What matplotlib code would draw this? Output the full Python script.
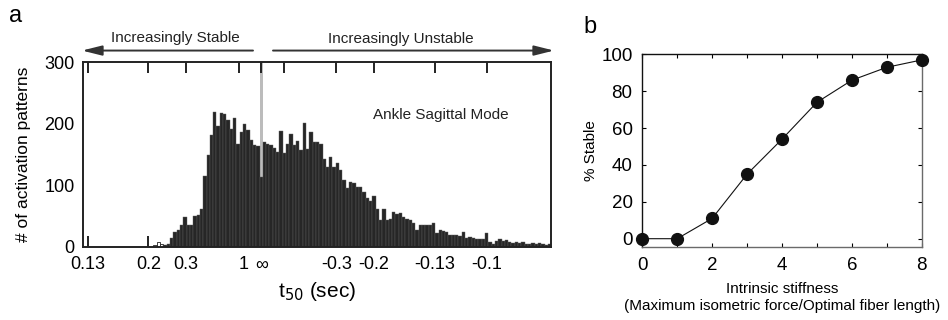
import numpy as np
import matplotlib.pyplot as plt
import matplotlib.patches as mpatches
import matplotlib.transforms as mtransforms

plt.rcParams['font.family'] = ['Liberation Sans', 'DejaVu Sans']

# %% data (x axis in units of -1/t50, one bar per bin)
bin_w = 0.147
white_counts = [3, 8, 5]
stable_counts = [3, 5, 14, 24, 28, 35, 48, 36, 36, 50, 51, 62, 115, 150, 182,
                 220, 197, 217, 216, 206, 191, 209, 167, 186, 199, 190, 174,
                 166, 164]
inf_count = 113
unstable_counts = [171, 168, 166, 160, 154, 189, 152, 168, 184, 166, 172, 158,
                   202, 159, 187, 171, 170, 167, 142, 130, 146, 129, 136, 125,
                   108, 96, 106,
                   104, 98, 97, 89, 80, 74, 82, 62, 44, 61, 44, 45, 56, 54, 55,
                   49, 45, 44, 38, 28, 35, 35, 35, 35,
                   38, 23, 28, 25, 24, 19, 19, 19, 17, 24, 15, 16, 15, 13, 13,
                   12, 23, 8, 4, 9, 12,
                   10, 11, 8, 6, 8, 6, 8, 5, 5, 6, 4, 6, 5, 3, 5]
t50_ticks = [0.13, 0.2, 0.3, 1, np.inf, -1, -0.3, -0.2, -0.13, -0.1]
t50_labels = ['0.13', '0.2', '0.3', '1', '\u221e', '', '-0.3', '-0.2', '-0.13', '-0.1']

stiffness = [0, 1, 2, 3, 4, 5, 6, 7, 8]
pct_stable = [0, 0, 11, 35, 54, 74, 86, 93, 97]

# %% figure
fig = plt.figure(figsize=(9.48, 3.2), dpi=100)
ax = fig.add_axes([0.0876, 0.229, 0.4936, 0.576])

n_before = len(white_counts) + len(stable_counts)
k_white = np.arange(-n_before, -n_before + len(white_counts))
k_stable = np.arange(-len(stable_counts), 0)
k_unstable = np.arange(1, len(unstable_counts) + 1)

ax.bar(0, 300, width=bin_w, color='#bcbcbc', linewidth=0, zorder=1)
ax.bar(k_white * bin_w, white_counts, width=bin_w, color='white',
       edgecolor='#222222', linewidth=0.6, zorder=2)
dark_k = np.concatenate([k_stable, [0], k_unstable])
dark_v = stable_counts + [inf_count] + unstable_counts
ax.bar(dark_k * bin_w, dark_v, width=bin_w, color='#262626',
       edgecolor='#5e5e5e', linewidth=0.3, zorder=2)

tick_pos = [0.0 if np.isinf(t) else -1.0 / t for t in t50_ticks]
ax.set_xticks(tick_pos)
ax.set_xticklabels(t50_labels)
ax.set_xlim(-7.9, 12.85)
ax.set_ylim(0, 300)
ax.set_yticks([0, 100, 200, 300])
ax.tick_params(axis='x', direction='in', length=8, width=1.4, top=True,
               labelsize=13, pad=7, color='#222222')
ax.tick_params(axis='y', length=0, labelsize=13, pad=6)
# the "1" label sits a little right of its tick
lbl = ax.get_xticklabels()[3]
lbl.set_transform(lbl.get_transform() +
                  mtransforms.ScaledTranslation(5 / 100, 0, fig.dpi_scale_trans))
for s in ax.spines.values():
    s.set_linewidth(1.4)
    s.set_color('#222222')
    s.set_zorder(3)
ax.set_xlabel('t$_{50}$ (sec)', fontsize=15, labelpad=5)
ax.set_ylabel('# of activation patterns', fontsize=12.5, labelpad=10)
ax.text(0.765, 0.715, 'Ankle Sagittal Mode', transform=ax.transAxes,
        ha='center', va='center', fontsize=11, color='#222222')

# arrows above panel a
fig.text(0.185, 0.88, 'Increasingly Stable', ha='center', va='center',
         fontsize=11, color='#222222')
fig.text(0.423, 0.878, 'Increasingly Unstable', ha='center', va='center',
         fontsize=11, color='#222222')
arrow_kw = dict(arrowstyle='-|>,head_length=1.0,head_width=0.25',
                color='#333333', lw=1.4, shrinkA=0, shrinkB=0)
fig.add_artist(mpatches.FancyArrowPatch(
    (253 / 948, 0.842), (82 / 948, 0.842), transform=fig.transFigure,
    mutation_scale=12, **arrow_kw))
fig.add_artist(mpatches.FancyArrowPatch(
    (273 / 948, 0.842), (554 / 948, 0.842), transform=fig.transFigure,
    mutation_scale=12, **arrow_kw))
fig.text(0.01, 0.95, 'a', fontsize=17, va='center', ha='left')

# %% panel b
bx = fig.add_axes([0.6775, 0.227, 0.2948, 0.603])
bx.plot(stiffness, pct_stable, color='#111111', lw=0.8, marker='o',
        markersize=8.5, markerfacecolor='#111111', markeredgecolor='#111111',
        clip_on=False, zorder=3)
bx.set_xlim(0, 8)
bx.set_ylim(-4.7, 100)
bx.set_xticks(range(0, 9))
bx.set_xticklabels([str(i) if i % 2 == 0 else '' for i in range(0, 9)])
bx.set_yticks(range(0, 101, 20))
bx.tick_params(direction='in', length=3, width=0.8, top=True, right=True,
               labelsize=13.5, pad=7)
for name, s in bx.spines.items():
    s.set_linewidth(1.0)
    s.set_color('#111111' if name in ('left', 'top') else '#6a6a6a')
bx.set_xlabel('Intrinsic stiffness\n(Maximum isometric force/Optimal fiber length)',
              fontsize=11, labelpad=6, linespacing=1.25)
bx.set_ylabel('% Stable', fontsize=11, labelpad=2)
fig.text(0.615, 0.915, 'b', fontsize=17, va='center', ha='left')

fig.savefig('out.png', dpi=100)
